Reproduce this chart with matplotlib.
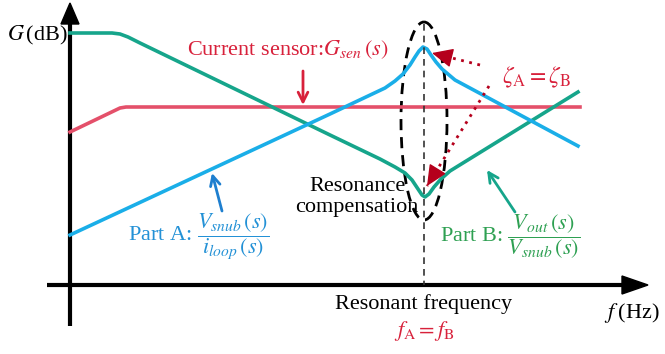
import matplotlib.pyplot as plt
from matplotlib.patches import Ellipse

plt.rcParams['font.family'] = ['Liberation Serif', 'DejaVu Serif']
plt.rcParams['mathtext.fontset'] = 'stix'

# curve points (x, y in picture pixels)
part_b_x = [70, 112, 120, 128, 140, 330, 380, 395, 405, 412, 418, 422, 425, 429, 434, 441, 450, 578]
part_b_y = [33, 33, 34, 37, 43, 135, 159, 167, 173, 180, 189, 195, 197, 194, 187, 179, 171, 92]

sensor_x = [70, 120, 126, 132, 580]
sensor_y = [132, 108, 107, 107, 107]

part_a_x = [70, 330, 385, 395, 403, 410, 415, 419, 423, 427, 431, 436, 442, 455, 578]
part_a_y = [235, 114, 88, 81, 74, 65, 57, 51, 47, 49, 55, 62, 69, 80, 146]

f_res = 424

teal = '#16A58B'
cyan = '#1AAEE8'
pink = '#E4506A'
red = '#D8213B'
dark_red = '#B5001C'
blue_txt = '#2391D6'
green_txt = '#2EA052'

fig = plt.figure(figsize=(6.65, 3.54), dpi=100)
ax = fig.add_axes([0, 0, 1, 1])
ax.set_xlim(0, 665)
ax.set_ylim(354, 0)
ax.axis('off')

# axes with arrows
ax.plot([70, 70], [326, 22], color='k', lw=3, solid_capstyle='butt')
ax.fill([61, 79, 70], [24, 24, 3], color='k')
ax.plot([47, 625], [285, 285], color='k', lw=3, solid_capstyle='butt')
ax.fill([622, 622, 648], [276, 294, 285], color='k')

# curves
ax.plot(sensor_x, sensor_y, color=pink, lw=2.6, solid_joinstyle='round')
ax.plot(part_b_x, part_b_y, color=teal, lw=2.6, solid_joinstyle='round')
ax.plot(part_a_x, part_a_y, color=cyan, lw=2.6, solid_joinstyle='round')

# resonance marker
ax.plot([f_res, f_res], [24, 285], color='#333333', lw=1.2, ls=(0, (4, 3)))
ax.add_patch(Ellipse((424, 121), 46, 198, fill=False, ec='k', lw=2, ls=(0, (4, 2.5))))

# dotted arrows for damping ratio
head = dict(arrowstyle='-|>,head_length=1.3,head_width=0.6', color=dark_red, lw=1, shrinkA=0, shrinkB=0)
for x0, y0, x1, y1 in [(480, 65, 432, 53), (489, 86, 427, 186)]:
    ax.plot([x0, x1], [y0, y1], color=dark_red, lw=2, ls=(0, (1, 2)))
    ax.annotate('', xy=(x1, y1), xytext=(x1 + (x0 - x1) * 0.1, y1 + (y0 - y1) * 0.1), arrowprops=head)

# pointer arrows
ax.annotate('', xy=(303, 105), xytext=(303, 71),
            arrowprops=dict(arrowstyle='->,head_length=0.7,head_width=0.35', color=red, lw=2, shrinkA=0, shrinkB=0))
ax.annotate('', xy=(212, 173), xytext=(222, 211),
            arrowprops=dict(arrowstyle='->,head_length=0.7,head_width=0.35', color='#1E7FCF', lw=2, shrinkA=0, shrinkB=0))
ax.annotate('', xy=(487, 170), xytext=(515, 212),
            arrowprops=dict(arrowstyle='->,head_length=0.7,head_width=0.35', color=teal, lw=2, shrinkA=0, shrinkB=0))

# labels
fs = 16
ax.text(7, 35, r'$G\,$(dB)', fontsize=fs, va='center', ha='left')
ax.text(187, 50, r'Current sensor:$G_{sen}\,(s)$', fontsize=fs, color=red, va='center', ha='left')
ax.text(537, 77, r'$\zeta_{\rm A}=\zeta_{\rm B}$', fontsize=17, color=red, va='center', ha='center')
ax.text(357, 197, 'Resonance\ncompensation', fontsize=fs, va='center', ha='center', linespacing=1.1)
ax.text(128, 237, r'Part A: $\dfrac{V_{snub}\,(s)}{i_{loop}\,(s)}$', fontsize=fs, color=blue_txt, va='center', ha='left')
ax.text(440, 237, r'Part B: $\dfrac{V_{out}\,(s)}{V_{snub}\,(s)}$', fontsize=fs, color=green_txt, va='center', ha='left')
ax.text(424, 304, 'Resonant frequency', fontsize=fs, va='center', ha='center')
ax.text(424, 331, r'$f_{\rm A}=f_{\rm B}$', fontsize=fs, color=red, va='center', ha='center')
ax.text(604, 313, r'$f\;$(Hz)', fontsize=fs, va='center', ha='left')

fig.savefig('out.png', dpi=100)
